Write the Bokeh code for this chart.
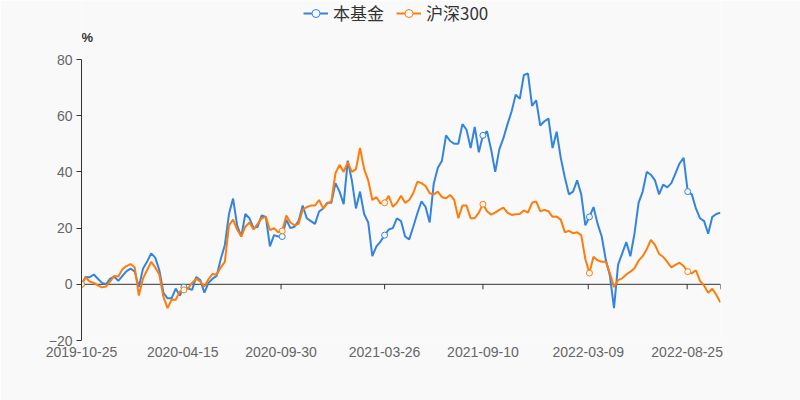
import numpy as np
import pandas as pd
from bokeh.plotting import figure
from bokeh.models import (Range1d, FixedTicker, DatetimeTickFormatter, Span, Label,
                          Legend, LegendItem)
from bokeh.embed import file_html
from bokeh.resources import INLINE

# ---------------- data (weekly readings, % cumulative return) ----------------
start_date = "2019-10-25"
n_points = 157
dates = pd.date_range(start_date, periods=n_points, freq="7D")

fund = [
    0, 2.6, 2.5, 3.5, 2.0, 0.5, 0.0, 2.0, 2.7, 1.2, 3.0, 4.7, 5.6, 4.5, -1.0, 5.5, 8.0, 11.0, 9.5, 5.0, -3.0, -5.0, -5.0,
    -1.5, -4.0, -1.0, -1.5, -2.0, 2.6, 1.5, -3.0, 0.5, 2.0, 3.0, 9.0, 14.0, 25.0, 30.5, 21.0, 17.0, 25.0, 23.5, 20.0, 20.5, 24.5,
    24.0, 13.5, 17.5, 17.0, 17.0, 23.0, 20.0, 20.5, 22.5, 28.0, 23.5, 22.5, 21.5, 25.9, 27.0, 29.0, 29.0, 36.0, 33.0, 28.5, 44.0, 37.0, 27.0,
    33.0, 25.0, 22.0, 10.0, 13.5, 15.2, 17.5, 19.5, 20.0, 23.5, 22.5, 17.0, 16.0, 20.5, 25.3, 29.5, 27.5, 22.0, 35.9, 41.5, 44.0, 53.0,
    51.0, 50.0, 50.0, 57.0, 55.0, 48.5, 56.0, 47.0, 53.0, 54.5, 48.0, 40.0, 48.0, 52.0, 57.0, 61.5, 67.5, 66.0, 74.5, 75.0, 63.5, 65.5, 56.5,
    58.0, 59.0, 48.5, 54.3, 45.0, 38.0, 32.0, 33.0, 37.0, 32.0, 21.0, 24.0, 27.5, 21.5, 17.0, 8.7, 3.0, -8.5, 7.0, 11.0, 15.0, 10.0, 18.0,
    29.0, 33.0, 40.0, 39.0, 37.0, 32.0, 35.5, 34.5, 36.0, 39.5, 43.0, 45.0, 33.0, 32.0, 27.0, 23.5, 22.5, 18.0, 24.0, 25.0, 25.5,
]
hs300 = [
    0, 2.5, 1.0, 0.5, -0.4, -1.1, -0.8, 1.0, 3.0, 2.8, 5.4, 6.5, 7.2, 6.0, -4.0, 2.0, 5.0, 8.0, 6.0, 3.5, -4.5, -8.5, -5.5,
    -5.5, -2.6, -2.0, -1.5, 0.5, 2.0, 1.0, -0.8, 1.8, 3.7, 3.5, 6.0, 8.0, 21.0, 23.0, 19.5, 17.0, 20.5, 22.0, 19.5, 21.5, 23.5,
    24.0, 19.3, 20.0, 18.5, 19.0, 24.5, 22.0, 21.0, 21.5, 26.5, 27.5, 28.0, 28.0, 30.0, 27.0, 28.8, 29.5, 39.5, 42.5, 40.0, 43.5, 40.0, 41.0,
    48.5, 41.0, 37.0, 30.0, 31.0, 28.8, 29.0, 31.5, 27.6, 29.0, 31.5, 29.0, 30.0, 32.5, 36.5, 36.0, 35.0, 32.4, 32.0, 33.0, 31.0, 30.6,
    31.8, 30.0, 23.5, 28.0, 28.0, 23.5, 23.5, 25.5, 28.5, 26.0, 24.8, 25.5, 26.5, 27.3, 25.5, 24.7, 24.9, 25.0, 26.3, 25.5, 29.0, 29.5, 26.0,
    26.5, 26.0, 24.0, 24.1, 23.0, 18.5, 19.0, 18.2, 18.5, 17.5, 9.0, 4.0, 9.8, 8.5, 8.0, 8.0, 4.0, -1.0, 1.5, 2.1, 3.5, 4.5, 5.7,
    8.4, 10.0, 12.5, 15.8, 14.0, 10.8, 9.8, 8.0, 6.0, 6.9, 7.7, 6.5, 4.5, 3.9, 5.0, 1.2, -0.5, -3.0, -1.6, -3.8, -6.5,
]
x_tick_labels = ["2019-10-25", "2020-04-15", "2020-09-30", "2021-03-26",
                 "2021-09-10", "2022-03-09", "2022-08-25"]
y_ticks = [-20, 0, 20, 40, 60, 80]
series_names = ["本基金", "沪深300"]
y_unit = "%"

# ---------------- style / layout ----------------
BG = "#f9f9f9"
BLUE = "#3384e0"
ORANGE = "#ff7c0a"
AXIS = "#333333"
LABEL = "#666666"
FONT = "Liberation Sans"
CJK = "Noto Sans CJK SC"
W, H = 800, 400
LEFT, RIGHT, BOTTOM = 81, 80, 60
AXIS_TOP_PX = 59            # pixel row of the value 80
TICK_PX = 5
Y_MIN, Y_MAX = y_ticks[0], y_ticks[-1]
frame_h = H - BOTTOM
units_per_px = (Y_MAX - Y_MIN) / (frame_h - AXIS_TOP_PX)


def to_ms(t):
    return pd.Timestamp(t).timestamp() * 1000.0


start_ms = to_ms(dates[0])
end_ms = to_ms(dates[-1])
tick_ms = [to_ms(t) for t in x_tick_labels]

p = figure(width=W, height=H, x_axis_type="datetime",
           x_range=Range1d(start_ms, end_ms),
           y_range=Range1d(Y_MIN, Y_MAX + AXIS_TOP_PX * units_per_px),
           output_backend="svg", toolbar_location=None,
           min_border_left=LEFT, min_border_right=RIGHT, min_border_top=0, min_border_bottom=BOTTOM,
           background_fill_color=BG, border_fill_color=BG, outline_line_color=None)
p.xgrid.visible = False
p.ygrid.visible = False

# y axis limited to -20..80
p.yaxis.bounds = (Y_MIN, Y_MAX)
p.yaxis.ticker = FixedTicker(ticks=y_ticks)
p.yaxis.major_label_overrides = {-20: "−20"}
p.yaxis.axis_line_color = AXIS
p.yaxis.major_tick_line_color = AXIS
p.yaxis.major_tick_out = TICK_PX
p.yaxis.major_tick_in = 0
p.yaxis.minor_tick_line_color = None
p.yaxis.major_label_text_color = LABEL
p.yaxis.major_label_text_font = FONT
p.yaxis.major_label_text_font_size = "14px"
p.yaxis.major_label_standoff = 4

# unit label above the y axis (inside the frame)
p.add_layout(Label(x=start_ms, y=Y_MAX, y_offset=22, x_offset=0, text=y_unit, text_align="left",
                   text_baseline="middle", text_font=FONT, text_font_size="13px",
                   text_font_style="bold", text_color=AXIS))

# bottom x axis: labels only
fmt = "%Y-%m-%d"
p.xaxis.ticker = FixedTicker(ticks=tick_ms)
p.xaxis.formatter = DatetimeTickFormatter(microseconds=fmt, milliseconds=fmt, seconds=fmt, minsec=fmt,
                                          minutes=fmt, hourmin=fmt, hours=fmt, days=fmt,
                                          months=fmt, years=fmt)
p.xaxis.axis_line_color = None
p.xaxis.major_tick_line_color = None
p.xaxis.minor_tick_line_color = None
p.xaxis.major_tick_out = 0
p.xaxis.major_tick_in = 0
p.xaxis.major_label_standoff = 6
p.xaxis.major_label_text_color = LABEL
p.xaxis.major_label_text_font = FONT
p.xaxis.major_label_text_font_size = "14px"

# zero line with downward ticks at label dates and at the end
p.add_layout(Span(location=0, dimension="width", line_color=AXIS, line_width=1, level="underlay"))
zero_ticks = tick_ms + [end_ms]
tick_len = TICK_PX * units_per_px
p.segment(x0=zero_ticks, y0=[0] * len(zero_ticks), x1=zero_ticks, y1=[-tick_len] * len(zero_ticks),
          line_color=AXIS, line_width=1)

dates_arr = np.array(dates.values, dtype="datetime64[ms]")
tick_idx = [int(np.abs(dates_arr - np.datetime64(t, "ms")).argmin()) for t in x_tick_labels]

items = []
for name, vals, col in zip(series_names, (fund, hs300), (BLUE, ORANGE)):
    ln = p.line(dates, vals, line_color=col, line_width=2)
    mk = p.scatter([dates[i] for i in tick_idx], [vals[i] for i in tick_idx], size=6,
                   fill_color=BG, line_color=col, line_width=1)
    items.append(LegendItem(label=name, renderers=[ln, mk]))

legend = Legend(items=items, orientation="horizontal", location=(303 - LEFT, frame_h - 25),
                padding=0, margin=0, spacing=12, glyph_width=25, glyph_height=20, label_height=20,
                label_standoff=5, label_text_font=CJK, label_text_font_size="17px", label_text_color=AXIS,
                border_line_color=None, background_fill_alpha=0)
p.add_layout(legend)

open("out.html", "w").write(file_html(p, INLINE))
